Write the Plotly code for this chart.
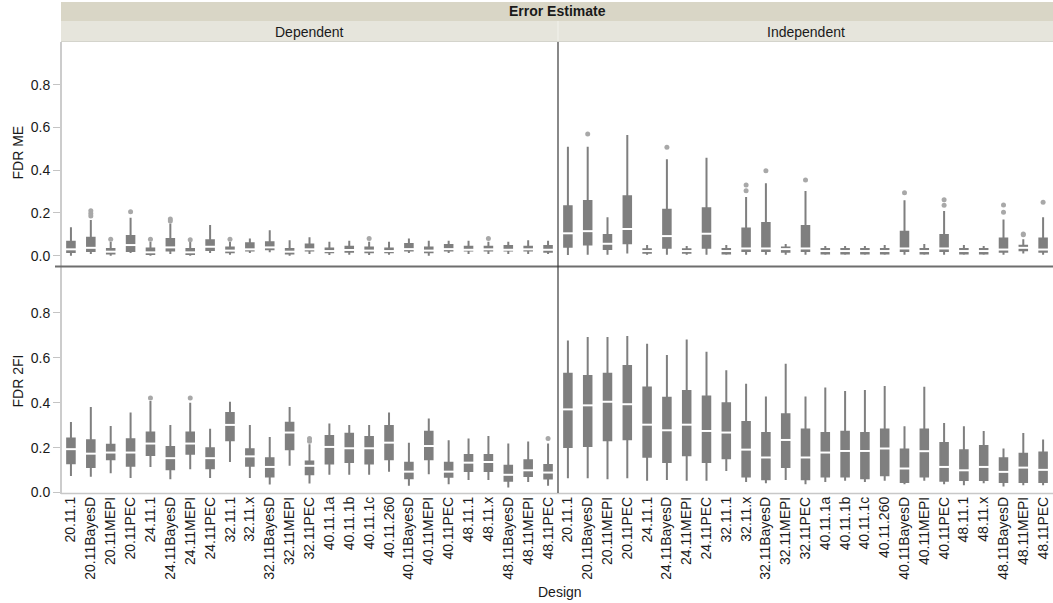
import plotly.graph_objects as go

designs = ["20.11.1", "20.11BayesD", "20.11MEPI", "20.11PEC",
           "24.11.1", "24.11BayesD", "24.11MEPI", "24.11PEC",
           "32.11.1", "32.11.x", "32.11BayesD", "32.11MEPI", "32.11PEC",
           "40.11.1a", "40.11.1b", "40.11.1c", "40.11.260", "40.11BayesD",
           "40.11MEPI", "40.11PEC",
           "48.11.1", "48.11.x", "48.11BayesD", "48.11MEPI", "48.11PEC"]

# ---- FDR ME, Dependent ----
dep_me_lo  = [0.000, 0.008, 0.000, 0.013, 0.000, 0.008, 0.000, 0.013, 0.005, 0.013, 0.016, 0.000, 0.008,
              0.003, 0.005, 0.003, 0.005, 0.013, 0.000, 0.013, 0.008, 0.008, 0.008, 0.008, 0.008]
dep_me_q1  = [0.018, 0.022, 0.011, 0.022, 0.008, 0.024, 0.008, 0.027, 0.016, 0.024, 0.030, 0.011, 0.024,
              0.016, 0.019, 0.016, 0.016, 0.024, 0.016, 0.024, 0.024, 0.024, 0.024, 0.024, 0.019]
dep_me_med = [0.030, 0.037, 0.019, 0.050, 0.016, 0.039, 0.016, 0.042, 0.024, 0.030, 0.039, 0.019, 0.030,
              0.022, 0.027, 0.024, 0.022, 0.031, 0.024, 0.031, 0.028, 0.030, 0.028, 0.030, 0.028]
dep_me_q3  = [0.065, 0.084, 0.031, 0.092, 0.034, 0.078, 0.031, 0.073, 0.039, 0.058, 0.063, 0.031, 0.053,
              0.034, 0.042, 0.039, 0.034, 0.055, 0.039, 0.050, 0.042, 0.042, 0.045, 0.042, 0.045]
dep_me_hi  = [0.133, 0.167, 0.066, 0.178, 0.066, 0.151, 0.066, 0.144, 0.066, 0.081, 0.119, 0.073, 0.086,
              0.066, 0.070, 0.066, 0.066, 0.081, 0.070, 0.070, 0.070, 0.066, 0.066, 0.073, 0.070]
dep_me_out_x = ["20.11BayesD", "20.11BayesD", "20.11BayesD", "20.11MEPI", "20.11PEC", "24.11.1",
                "24.11BayesD", "24.11BayesD", "24.11MEPI", "32.11.1", "40.11.1c", "48.11.x"]
dep_me_out_y = [0.210, 0.198, 0.186, 0.077, 0.206, 0.077, 0.172, 0.163, 0.075, 0.077, 0.081, 0.081]

# ---- FDR ME, Independent ----
ind_me_lo  = [0.003, 0.005, 0.005, 0.010, 0.005, 0.005, 0.005, 0.005, 0.005, 0.005, 0.005, 0.005, 0.005,
              0.005, 0.005, 0.005, 0.005, 0.005, 0.005, 0.005, 0.005, 0.005, 0.005, 0.010, 0.005]
ind_me_q1  = [0.042, 0.053, 0.031, 0.058, 0.014, 0.037, 0.014, 0.037, 0.011, 0.022, 0.022, 0.019, 0.022,
              0.011, 0.011, 0.011, 0.011, 0.022, 0.011, 0.022, 0.011, 0.011, 0.019, 0.026, 0.019]
ind_me_med = [0.105, 0.115, 0.056, 0.125, 0.022, 0.092, 0.022, 0.103, 0.022, 0.034, 0.034, 0.031, 0.034,
              0.022, 0.022, 0.022, 0.022, 0.034, 0.022, 0.034, 0.022, 0.022, 0.029, 0.037, 0.029]
ind_me_q3  = [0.232, 0.256, 0.097, 0.278, 0.030, 0.215, 0.030, 0.222, 0.031, 0.128, 0.153, 0.039, 0.139,
              0.031, 0.031, 0.031, 0.031, 0.112, 0.031, 0.097, 0.031, 0.031, 0.081, 0.047, 0.081]
ind_me_hi  = [0.510, 0.510, 0.180, 0.565, 0.050, 0.452, 0.045, 0.459, 0.050, 0.275, 0.339, 0.055, 0.303,
              0.045, 0.045, 0.045, 0.050, 0.260, 0.055, 0.209, 0.050, 0.045, 0.170, 0.077, 0.180]
ind_me_out_x = ["20.11BayesD", "24.11BayesD", "32.11.x", "32.11.x", "32.11BayesD", "32.11PEC",
                "40.11BayesD", "40.11PEC", "40.11PEC", "48.11BayesD", "48.11BayesD",
                "48.11MEPI", "48.11MEPI", "48.11PEC"]
ind_me_out_y = [0.569, 0.507, 0.331, 0.304, 0.398, 0.354, 0.295, 0.262, 0.236, 0.237, 0.203,
                0.102, 0.098, 0.250]

# ---- FDR 2FI, Dependent ----
dep_2fi_lo  = [0.074, 0.070, 0.086, 0.065, 0.114, 0.059, 0.104, 0.065, 0.136, 0.065, 0.036, 0.119, 0.040,
               0.079, 0.079, 0.079, 0.093, 0.030, 0.081, 0.037, 0.056, 0.056, 0.022, 0.047, 0.030]
dep_2fi_q1  = [0.130, 0.114, 0.148, 0.119, 0.167, 0.104, 0.173, 0.108, 0.233, 0.119, 0.071, 0.193, 0.081,
               0.129, 0.136, 0.129, 0.148, 0.064, 0.148, 0.070, 0.096, 0.096, 0.052, 0.074, 0.062]
dep_2fi_med = [0.193, 0.173, 0.178, 0.178, 0.218, 0.153, 0.218, 0.153, 0.301, 0.161, 0.114, 0.267, 0.119,
               0.203, 0.197, 0.197, 0.222, 0.093, 0.207, 0.093, 0.133, 0.136, 0.079, 0.099, 0.089]
dep_2fi_q3  = [0.241, 0.233, 0.213, 0.237, 0.267, 0.203, 0.267, 0.197, 0.354, 0.193, 0.153, 0.311, 0.138,
               0.252, 0.262, 0.247, 0.296, 0.133, 0.271, 0.133, 0.167, 0.167, 0.119, 0.144, 0.123]
dep_2fi_hi  = [0.314, 0.381, 0.296, 0.356, 0.407, 0.301, 0.400, 0.284, 0.404, 0.301, 0.247, 0.381, 0.215,
               0.307, 0.301, 0.301, 0.356, 0.222, 0.330, 0.233, 0.241, 0.252, 0.218, 0.227, 0.218]
dep_2fi_out_x = ["24.11.1", "24.11MEPI", "32.11PEC", "32.11PEC", "48.11PEC"]
dep_2fi_out_y = [0.421, 0.421, 0.240, 0.228, 0.241]

# ---- FDR 2FI, Independent ----
ind_2fi_lo  = [0.064, 0.064, 0.059, 0.064, 0.052, 0.056, 0.052, 0.052, 0.096, 0.047, 0.041, 0.056, 0.037,
               0.047, 0.052, 0.047, 0.052, 0.037, 0.052, 0.037, 0.033, 0.041, 0.027, 0.033, 0.033]
ind_2fi_q1  = [0.203, 0.207, 0.233, 0.237, 0.159, 0.136, 0.166, 0.136, 0.153, 0.071, 0.059, 0.114, 0.059,
               0.071, 0.071, 0.064, 0.077, 0.047, 0.071, 0.052, 0.056, 0.056, 0.047, 0.047, 0.047]
ind_2fi_med = [0.370, 0.388, 0.404, 0.393, 0.302, 0.277, 0.302, 0.274, 0.267, 0.191, 0.156, 0.234, 0.156,
               0.178, 0.185, 0.185, 0.196, 0.107, 0.184, 0.114, 0.099, 0.114, 0.092, 0.111, 0.101]
ind_2fi_q3  = [0.529, 0.519, 0.529, 0.563, 0.467, 0.422, 0.452, 0.427, 0.397, 0.314, 0.265, 0.348, 0.280,
               0.265, 0.270, 0.265, 0.280, 0.191, 0.280, 0.221, 0.188, 0.207, 0.153, 0.173, 0.178]
ind_2fi_hi  = [0.677, 0.692, 0.692, 0.696, 0.662, 0.612, 0.681, 0.627, 0.544, 0.484, 0.427, 0.573, 0.427,
               0.467, 0.452, 0.456, 0.474, 0.295, 0.471, 0.310, 0.295, 0.274, 0.196, 0.265, 0.236]

W, H = 1053, 603
BOX = "#7f7f7f"
OUT = "#a8a8a8"
FONT = "Liberation Sans, Arial, sans-serif"

panels = [
    ("x", "y", dep_me_lo, dep_me_q1, dep_me_med, dep_me_q3, dep_me_hi, dep_me_out_x, dep_me_out_y),
    ("x2", "y2", ind_me_lo, ind_me_q1, ind_me_med, ind_me_q3, ind_me_hi, ind_me_out_x, ind_me_out_y),
    ("x3", "y3", dep_2fi_lo, dep_2fi_q1, dep_2fi_med, dep_2fi_q3, dep_2fi_hi, dep_2fi_out_x, dep_2fi_out_y),
    ("x4", "y4", ind_2fi_lo, ind_2fi_q1, ind_2fi_med, ind_2fi_q3, ind_2fi_hi, [], []),
]

fig = go.Figure()
for xa, ya, lo, q1, med, q3, hi, ox, oy in panels:
    fig.add_trace(go.Box(
        x=designs, q1=q1, median=med, q3=q3, lowerfence=lo, upperfence=hi,
        xaxis=xa, yaxis=ya, width=0.38, whiskerwidth=0,
        fillcolor=BOX, line=dict(color=BOX, width=2),
        boxpoints=False, showlegend=False, hoverinfo="skip"))
    fig.add_trace(go.Scatter(
        x=designs, y=med, xaxis=xa, yaxis=ya, mode="markers",
        marker=dict(symbol="line-ew", size=9, line=dict(color="white", width=2)),
        showlegend=False, hoverinfo="skip"))
    if ox:
        fig.add_trace(go.Scatter(
            x=ox, y=oy, xaxis=xa, yaxis=ya, mode="markers",
            marker=dict(symbol="circle", size=5, color=OUT),
            showlegend=False, hoverinfo="skip"))

xl = [61 / W, 558 / W]
xr = [558 / W, 1.0]
ytop = [1 - 266 / H, 1 - 42 / H]
ybot = [1 - 493 / H, 1 - 266 / H]

tickvals = [0, 0.2, 0.4, 0.6, 0.8]
ticktext = ["0.0", "0.2", "0.4", "0.6", "0.8"]

xcommon = dict(type="category", categoryorder="array", categoryarray=designs,
               range=[-0.5, len(designs) - 0.5], showgrid=False, zeroline=False,
               showline=False, ticks="", automargin=False, fixedrange=True)
ycommon = dict(showgrid=False, zeroline=False, automargin=False, fixedrange=True,
               tickvals=tickvals, ticktext=ticktext)

fig.update_layout(
    width=W, height=H, autosize=False,
    margin=dict(l=0, r=0, t=0, b=0),
    paper_bgcolor="white", plot_bgcolor="white",
    font=dict(family=FONT, size=14, color="#1a1a1a"),
    showlegend=False,
    xaxis=dict(domain=xl, anchor="y", showticklabels=False, **xcommon),
    xaxis2=dict(domain=xr, anchor="y2", showticklabels=False, **xcommon),
    xaxis3=dict(domain=xl, anchor="y3", showticklabels=True, tickangle=-90,
                tickfont=dict(size=14, color="#1a1a1a"), **xcommon),
    xaxis4=dict(domain=xr, anchor="y4", showticklabels=True, tickangle=-90,
                tickfont=dict(size=14, color="#1a1a1a"), **xcommon),
    yaxis=dict(domain=ytop, anchor="x", range=[-0.048, 1.0], ticks="outside", ticklen=7,
               tickcolor="#c4c4c4", tickwidth=1, showline=False,
               tickfont=dict(size=14, color="#1a1a1a"), **ycommon),
    yaxis2=dict(domain=ytop, anchor="x2", range=[-0.048, 1.0], showticklabels=False,
                ticks="", showline=False, **ycommon),
    yaxis3=dict(domain=ybot, anchor="x3", range=[-0.002, 1.008], ticks="outside", ticklen=7,
                tickcolor="#c4c4c4", tickwidth=1, showline=False,
                tickfont=dict(size=14, color="#1a1a1a"), **ycommon),
    yaxis4=dict(domain=ybot, anchor="x4", range=[-0.002, 1.008], showticklabels=False,
                ticks="", showline=False, **ycommon),
)

def py(y):
    return 1 - y / H

shapes = [
    # header bands
    dict(type="rect", xref="paper", yref="paper", x0=61 / W, x1=1.0, y0=py(21), y1=py(2),
         fillcolor="#d9d6c6", line=dict(width=0), layer="below"),
    dict(type="rect", xref="paper", yref="paper", x0=61 / W, x1=1.0, y0=py(41.5), y1=py(21),
         fillcolor="#e6e5dc", line=dict(width=0), layer="below"),
    dict(type="line", xref="paper", yref="paper", x0=558 / W, x1=558 / W, y0=py(41), y1=py(21),
         line=dict(color="#f2f2ec", width=1)),
    dict(type="line", xref="paper", yref="paper", x0=61 / W, x1=1.0, y0=py(41.5), y1=py(41.5),
         line=dict(color="#d4d4cc", width=1)),
    # left axis line
    dict(type="line", xref="paper", yref="paper", x0=61 / W, x1=61 / W, y0=py(494), y1=py(42),
         line=dict(color="#cccccc", width=2)),
    # bottom axis line
    dict(type="line", xref="paper", yref="paper", x0=61 / W, x1=1.0, y0=py(493.5), y1=py(493.5),
         line=dict(color="#c8c8c8", width=1.5)),
    # row separator
    dict(type="line", xref="paper", yref="paper", x0=55 / W, x1=1.0, y0=py(266.5), y1=py(266.5),
         line=dict(color="#6e6e6e", width=2)),
    # column separator
    dict(type="line", xref="paper", yref="paper", x0=558 / W, x1=558 / W, y0=py(493), y1=py(42),
         line=dict(color="#3a3a3a", width=1.2)),
]

annotations = [
    dict(text="<b>Error Estimate</b>", x=(61 + W) / 2 / W, y=py(11.5), xref="paper", yref="paper",
         showarrow=False, font=dict(size=14, color="#1a1a1a"), xanchor="center", yanchor="middle"),
    dict(text="Dependent", x=(61 + 558) / 2 / W, y=py(31.5), xref="paper", yref="paper",
         showarrow=False, font=dict(size=14, color="#1a1a1a"), xanchor="center", yanchor="middle"),
    dict(text="Independent", x=(558 + W) / 2 / W, y=py(31.5), xref="paper", yref="paper",
         showarrow=False, font=dict(size=14, color="#1a1a1a"), xanchor="center", yanchor="middle"),
    dict(text="FDR ME", x=17.5 / W, y=py(153), xref="paper", yref="paper", textangle=-90,
         showarrow=False, font=dict(size=14, color="#1a1a1a"), xanchor="center", yanchor="middle"),
    dict(text="FDR 2FI", x=17.5 / W, y=py(381), xref="paper", yref="paper", textangle=-90,
         showarrow=False, font=dict(size=14, color="#1a1a1a"), xanchor="center", yanchor="middle"),
    dict(text="Design", x=560 / W, y=py(591.5), xref="paper", yref="paper",
         showarrow=False, font=dict(size=14, color="#1a1a1a"), xanchor="center", yanchor="middle"),
]

fig.update_layout(shapes=shapes, annotations=annotations)
fig.write_html("out.html", config={"displayModeBar": False, "staticPlot": True},
               post_script="document.body.style.margin='0';document.body.style.overflow='hidden';")
